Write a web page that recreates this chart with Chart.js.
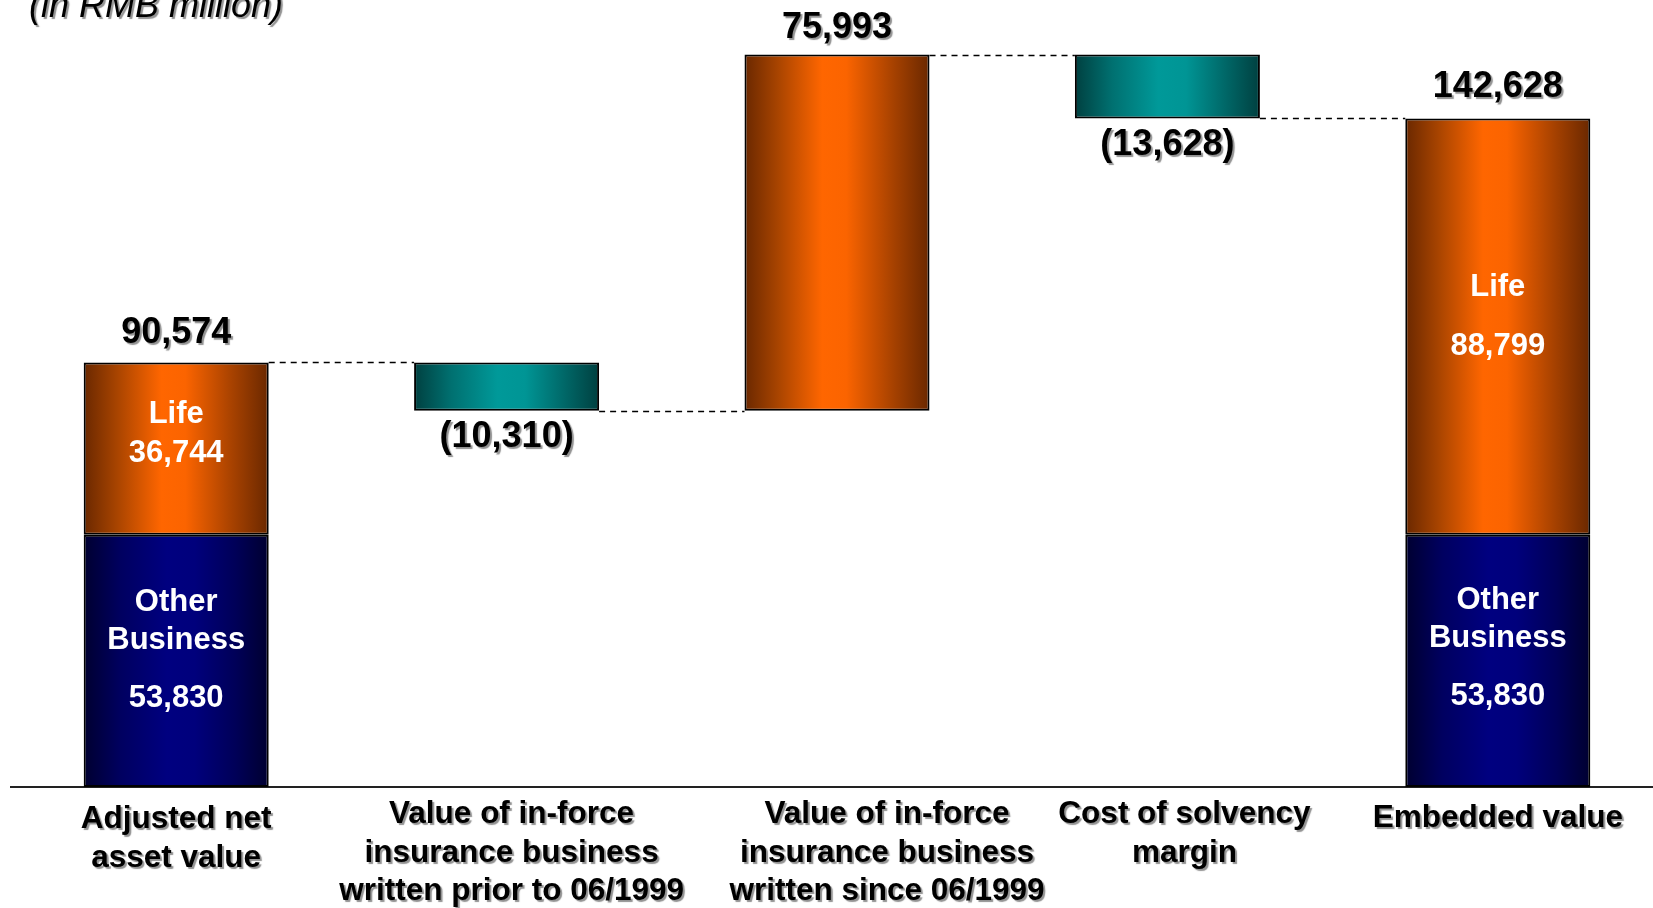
<!DOCTYPE html>
<html>
<head>
<meta charset="utf-8">
<script src="https://cdn.jsdelivr.net/npm/chart.js@4/dist/chart.umd.min.js"></script>
<style>
html,body{margin:0;padding:0;background:#fff;overflow:hidden;width:1653px;height:908px;}
#wrap{width:1663px;height:908px;}
</style>
</head>
<body>
<div id="wrap"><canvas id="c" width="1663" height="908"></canvas></div>
<script>
// ---- data ----
const categories = [
  ["Adjusted net", "asset value"],
  ["Value of in-force", "insurance business", "written prior to 06/1999"],
  ["Value of in-force", "insurance business", "written since 06/1999"],
  ["Cost of solvency", "margin"],
  ["Embedded value"]
];
const otherBusiness = [53830, null, null, null, 53830];
const lifeBusiness  = [36744, null, null, null, 88799];
const movements     = [null, -10310, 75993, -13628, null];
const headlineValues = [90574, -10310, 75993, -13628, 142628];
const titleText = "(in RMB million)";

// ---- build floating ranges ----
const navyData = [], orangeData = [], tealData = [], levels = [];
let running = 0;
for (let i = 0; i < categories.length; i++) {
  if (otherBusiness[i] != null) {
    navyData.push([0, otherBusiness[i]]);
    orangeData.push([otherBusiness[i], otherBusiness[i] + lifeBusiness[i]]);
    tealData.push(null);
    running = otherBusiness[i] + lifeBusiness[i];
  } else {
    const m = movements[i];
    navyData.push(null);
    if (m >= 0) { orangeData.push([running, running + m]); tealData.push(null); }
    else { tealData.push([running + m, running]); orangeData.push(null); }
    running += m;
  }
  levels.push(running);
}

const FONT = '"Liberation Sans", Arial, sans-serif';
const BAR_PCT = 0.56;

// label placement (layout only)
const tickLayout = [
  { dx: 0,  y0: 828 },
  { dx: 5,  y0: 823 },
  { dx: 50, y0: 823 },
  { dx: 17, y0: 823 },
  { dx: 0,  y0: 827 }
];
const TICK_LINE = 38.5;
const valueOffsets = [-29, 26, -26, 27, -31];

function hGrad(stops) {
  return (c) => {
    const chart = c.chart;
    if (!chart.chartArea || !chart.scales.x) return stops[Math.floor(stops.length / 2)][1];
    const sx = chart.scales.x;
    const cx = sx.getPixelForValue(c.dataIndex);
    const hw = sx.width / categories.length * BAR_PCT / 2;
    const g = chart.ctx.createLinearGradient(cx - hw, 0, cx + hw, 0);
    stops.forEach(s => g.addColorStop(s[0], s[1]));
    return g;
  };
}
const orangeStops = [[0, '#6a2800'], [0.18, '#a84400'], [0.42, '#ff6600'], [0.55, '#fb6400'], [0.8, '#a84200'], [1, '#6a2800']];
const navyStops   = [[0, '#000030'], [0.2, '#000060'], [0.45, '#000080'], [0.6, '#00007c'], [0.82, '#000058'], [1, '#000030']];
const tealStops   = [[0, '#004040'], [0.2, '#007070'], [0.45, '#009999'], [0.6, '#009595'], [0.82, '#006666'], [1, '#004040']];

const fmt = v => {
  const s = Math.abs(v).toLocaleString('en-US');
  return v < 0 ? '(' + s + ')' : s;
};

const innerLabels = {
  0: { life: [-34, 5], other: [-58, -20, 38] },
  4: { life: [-39, 20], other: [-60, -22, 36] }
};

function setShadow(ctx, on) {
  if (on) {
    ctx.shadowColor = 'rgba(110,110,110,0.75)';
    ctx.shadowOffsetX = 2; ctx.shadowOffsetY = 2; ctx.shadowBlur = 1;
  } else {
    ctx.shadowColor = 'rgba(0,0,0,0)';
    ctx.shadowOffsetX = 0; ctx.shadowOffsetY = 0; ctx.shadowBlur = 0;
  }
}

const overlay = {
  id: 'overlay',
  afterDatasetsDraw(chart) {
    const ctx = chart.ctx, sx = chart.scales.x, sy = chart.scales.y;
    const hw = sx.width / categories.length * BAR_PCT / 2;
    ctx.save();
    // connectors
    ctx.strokeStyle = '#000';
    ctx.lineWidth = 1.5;
    ctx.setLineDash([6, 5]);
    for (let i = 0; i < categories.length - 1; i++) {
      const y = Math.round(sy.getPixelForValue(levels[i])) + 0.5;
      ctx.beginPath();
      ctx.moveTo(sx.getPixelForValue(i) + hw, y);
      ctx.lineTo(sx.getPixelForValue(i + 1) - hw, y);
      ctx.stroke();
    }
    ctx.setLineDash([]);
    // headline values
    ctx.textAlign = 'center';
    ctx.textBaseline = 'middle';
    ctx.font = 'bold 36px ' + FONT;
    setShadow(ctx, true);
    ctx.fillStyle = '#000';
    for (let i = 0; i < categories.length; i++) {
      const cx = sx.getPixelForValue(i);
      ctx.fillText(fmt(headlineValues[i]), cx, sy.getPixelForValue(levels[i]) + valueOffsets[i]);
    }
    // category labels
    ctx.textBaseline = 'alphabetic';
    ctx.font = 'bold 31.5px ' + FONT;
    categories.forEach((lines, i) => {
      const cx = sx.getPixelForValue(i) + tickLayout[i].dx;
      lines.forEach((t, k) => ctx.fillText(t, cx, tickLayout[i].y0 + k * TICK_LINE));
    });
    // title
    ctx.textAlign = 'left';
    ctx.font = 'italic 36px ' + FONT;
    ctx.fillText(titleText, 29, 17);
    // inner labels
    setShadow(ctx, false);
    ctx.fillStyle = '#fff';
    ctx.textAlign = 'center';
    ctx.textBaseline = 'middle';
    ctx.font = 'bold 31px ' + FONT;
    Object.keys(innerLabels).forEach(k => {
      const i = +k, cx = sx.getPixelForValue(i);
      const lifeMid = (sy.getPixelForValue(otherBusiness[i]) + sy.getPixelForValue(otherBusiness[i] + lifeBusiness[i])) / 2;
      const otherMid = (sy.getPixelForValue(0) + sy.getPixelForValue(otherBusiness[i])) / 2;
      const o = innerLabels[k];
      ctx.fillText('Life', cx, lifeMid + o.life[0]);
      ctx.fillText(fmt(lifeBusiness[i]), cx, lifeMid + o.life[1]);
      ctx.fillText('Other', cx, otherMid + o.other[0]);
      ctx.fillText('Business', cx, otherMid + o.other[1]);
      ctx.fillText(fmt(otherBusiness[i]), cx, otherMid + o.other[2]);
    });
    ctx.restore();
  }
};

const common = { borderColor: '#000', borderWidth: 2, borderSkipped: false, grouped: false,
  categoryPercentage: 1, barPercentage: BAR_PCT };

new Chart(document.getElementById('c'), {
  type: 'bar',
  data: {
    labels: categories,
    datasets: [
      Object.assign({ label: 'Other Business', data: navyData, backgroundColor: hGrad(navyStops) }, common),
      Object.assign({ label: 'Life / increase', data: orangeData, backgroundColor: hGrad(orangeStops) }, common),
      Object.assign({ label: 'Decrease', data: tealData, backgroundColor: hGrad(tealStops) }, common)
    ]
  },
  options: {
    responsive: false,
    devicePixelRatio: 1,
    animation: false,
    layout: { padding: { top: 37, left: 11, right: 0, bottom: 0 } },
    plugins: { legend: { display: false }, tooltip: { enabled: false }, title: { display: false } },
    scales: {
      x: {
        grid: { display: false, drawTicks: false },
        border: { display: true, color: '#222', width: 2 },
        ticks: { display: false },
        afterFit: (s) => { s.height = 121; }
      },
      y: { display: false, min: 0, max: 160000 }
    }
  },
  plugins: [overlay]
});
</script>
</body>
</html>
